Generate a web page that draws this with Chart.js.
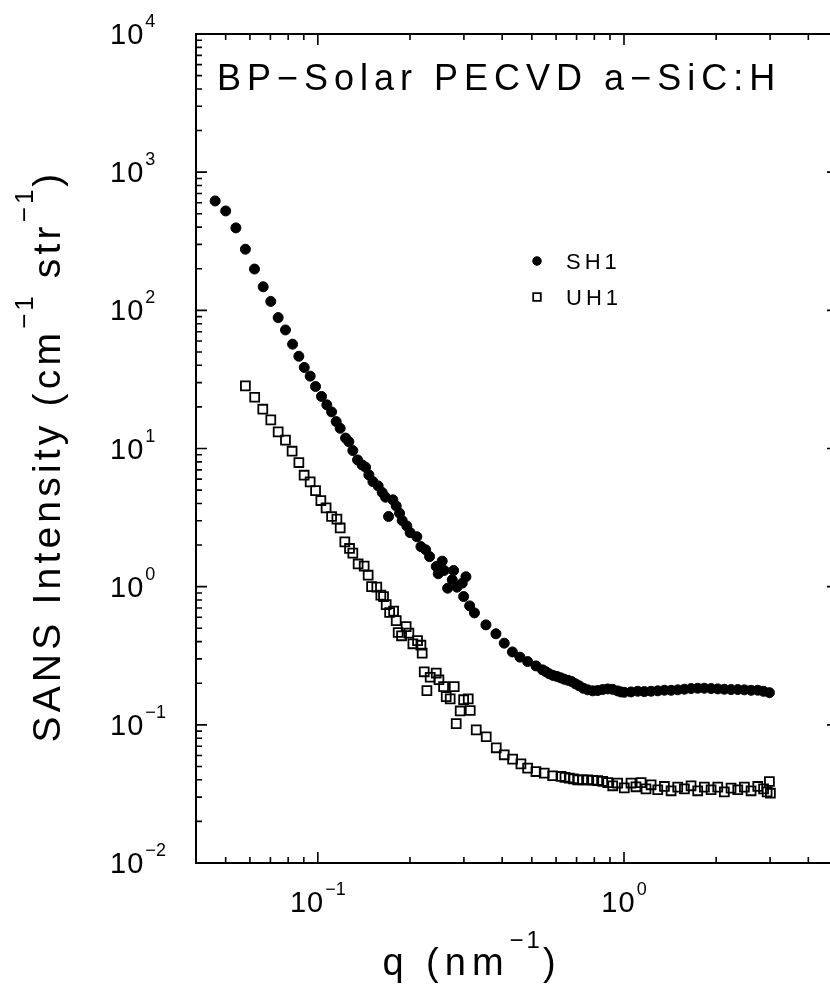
<!DOCTYPE html>
<html lang="es">
<head>
<meta charset="utf-8">
<title>SANS BP-Solar PECVD a-SiC:H</title>
<script src="https://cdn.jsdelivr.net/npm/chart.js@4.4.1/dist/chart.umd.min.js"></script>
<style>
    html, body { margin: 0; padding: 0; background: #fff; overflow: hidden; }
    #grafico { display: block; }
</style>
</head>
<body>
<canvas id="grafico" width="850" height="984"></canvas>
<script>
// Valores de q (nm^-1) e intensidad (cm^-1 str^-1) de la muestra SH1.
const qSH1 = [0.0462, 0.0500, 0.0540, 0.0580, 0.0621, 0.0663, 0.0702, 0.0742, 0.0784, 0.0827,
    0.0867, 0.0903, 0.0944, 0.0983, 0.1028, 0.1070, 0.1109, 0.1148, 0.1183, 0.1232,
    0.1263, 0.1301, 0.1348, 0.1395, 0.1432, 0.1468, 0.1513, 0.1574, 0.1623, 0.1664,
    0.1702, 0.1758, 0.1803, 0.1849, 0.1886, 0.1953, 0.2002, 0.2106, 0.2171, 0.2249,
    0.2317, 0.2436, 0.2473, 0.2548, 0.2587, 0.2654, 0.2748, 0.2777, 0.2847, 0.2963,
    0.2994, 0.3046, 0.3132, 0.3247, 0.3540, 0.3817, 0.4063, 0.4320, 0.4571, 0.4844,
    0.5157, 0.5416, 0.5560, 0.5700, 0.5861, 0.6039, 0.6206, 0.6380, 0.6561, 0.6745,
    0.6940, 0.7142, 0.7377, 0.7609, 0.7901, 0.8204, 0.8519, 0.8846, 0.9186, 0.9537,
    0.9777, 1.002, 1.054, 1.109, 1.165, 1.226, 1.289, 1.355, 1.425, 1.498,
    1.575, 1.656, 1.741, 1.830, 1.925, 2.024, 2.127, 2.237, 2.353, 2.473,
    2.600, 2.735, 2.857, 2.985];
const iSH1 = [619, 524, 395, 277, 199, 148, 116, 88.6, 72.1, 56.9,
    46.5, 38.6, 33.4, 28.1, 23.8, 20.7, 18.4, 15.65, 14.0, 11.9,
    11.2, 9.66, 8.27, 7.61, 7.32, 6.44, 5.76, 5.36, 4.80, 4.44,
    3.22, 4.25, 3.84, 3.40, 3.01, 2.75, 2.46, 2.30, 1.95, 1.85,
    1.65, 1.40, 1.24, 1.53, 1.31, 0.975, 1.12, 1.31, 0.992, 1.06,
    0.848, 1.18, 0.726, 0.646, 0.529, 0.456, 0.390, 0.337, 0.309, 0.287,
    0.267, 0.250, 0.242, 0.234, 0.228, 0.224, 0.219, 0.214, 0.210, 0.206,
    0.198, 0.1915, 0.1837, 0.1792, 0.1762, 0.1771, 0.1800, 0.1820, 0.1806, 0.1760,
    0.1730, 0.1720, 0.1730, 0.1750, 0.1740, 0.1750, 0.1762, 0.1780, 0.1777, 0.1792,
    0.1810, 0.1830, 0.1840, 0.1840, 0.1830, 0.1820, 0.1810, 0.1800, 0.1800, 0.1792,
    0.1777, 0.1780, 0.1747, 0.1710];

// Valores de q (nm^-1) e intensidad (cm^-1 str^-1) de la muestra UH1.
const qUH1 = [0.0580, 0.0622, 0.0661, 0.0702, 0.0742, 0.0784, 0.0824, 0.0867, 0.0902, 0.0944,
    0.0983, 0.1023, 0.1064, 0.1109, 0.1154, 0.1183, 0.1225, 0.1269, 0.1301, 0.1354,
    0.1417, 0.1460, 0.1498, 0.1558, 0.1606, 0.1639, 0.1672, 0.1716, 0.1768, 0.1803,
    0.1830, 0.1877, 0.1943, 0.1983, 0.2044, 0.2117, 0.2171, 0.2192, 0.2226, 0.2271,
    0.2328, 0.2436, 0.2486, 0.2575, 0.2626, 0.2706, 0.2789, 0.2831, 0.2917, 0.2994,
    0.3099, 0.3146, 0.3291, 0.3548, 0.3826, 0.4063, 0.4327, 0.4606, 0.4844, 0.5157,
    0.5489, 0.5848, 0.6225, 0.6416, 0.6626, 0.6839, 0.7058, 0.7328, 0.7609, 0.7901,
    0.8204, 0.8519, 0.8846, 0.9186, 0.9537, 1.002, 1.054, 1.094, 1.137, 1.180,
    1.226, 1.289, 1.355, 1.425, 1.498, 1.575, 1.656, 1.741, 1.830, 1.925,
    2.024, 2.127, 2.237, 2.353, 2.473, 2.600, 2.735, 2.857, 2.934, 2.985, 3.007];
const iUH1 = [28.4, 23.5, 19.25, 16.1, 13.2, 11.5, 9.56, 7.91, 6.41, 5.73,
    4.96, 4.20, 3.72, 3.22, 3.08, 2.66, 2.11, 1.89, 1.75, 1.46,
    1.41, 1.21, 1.00, 0.992, 0.868, 0.848, 0.742, 0.650, 0.665, 0.568,
    0.466, 0.441, 0.514, 0.461, 0.386, 0.407, 0.377, 0.330, 0.242, 0.177,
    0.221, 0.237, 0.212, 0.189, 0.160, 0.154, 0.189, 0.102, 0.126, 0.152,
    0.154, 0.127, 0.092, 0.082, 0.0682, 0.0607, 0.0565, 0.0522, 0.0486, 0.0459,
    0.0447, 0.0428, 0.0423, 0.0417, 0.0412, 0.0407, 0.0400, 0.0400, 0.0400, 0.0397,
    0.0395, 0.0390, 0.0382, 0.0362, 0.0379, 0.0350, 0.0379, 0.0356, 0.0382, 0.0344,
    0.0368, 0.0339, 0.0358, 0.0333, 0.0354, 0.0344, 0.0362, 0.0333, 0.0354, 0.0339,
    0.0354, 0.0327, 0.0348, 0.0339, 0.0354, 0.0333, 0.0358, 0.0344, 0.0327, 0.0389, 0.0320];

// Etiquetas de los ejes (potencias de diez) y límites.
const ticksX = [0.1, 1];
const ticksY = [0.01, 0.1, 1, 10, 100, 1000, 10000];
const rangoX = [0.04, 5];
const rangoY = [0.01, 10000];

const FUENTE = '"Liberation Sans", Arial, sans-serif';

// Dibuja varios trozos de texto seguidos (normal y superíndice).
const dibujarSegmentos = (ctx, segmentos, x, y, alinear) => {
    let total = 0;
    segmentos.forEach(s => {
        ctx.font = s.fuente;
        ctx.letterSpacing = s.espacio || '0px';
        s.ancho = ctx.measureText(s.texto).width;
        total += s.ancho;
    });
    let cursor = alinear === 'center' ? x - total / 2 : x;
    ctx.textAlign = 'left';
    ctx.textBaseline = 'alphabetic';
    segmentos.forEach(s => {
        ctx.font = s.fuente;
        ctx.letterSpacing = s.espacio || '0px';
        ctx.fillText(s.texto, cursor, y - (s.subir || 0));
        cursor += s.ancho;
    });
    ctx.letterSpacing = '0px';
};

// Texto "10" con su exponente.
const potenciaDiez = (valor) => {
    const exp = String(Math.round(Math.log10(valor))).replace('-', '\u2212');
    return [
        { texto: '10', fuente: `29px ${FUENTE}`, espacio: '1px' },
        { texto: ' ', fuente: `4px ${FUENTE}` },
        { texto: exp, fuente: `18px ${FUENTE}`, subir: 17 }
    ];
};

// Posiciones de marcas mayores y menores en escala logarítmica.
const valoresMarcas = (min, max) => {
    const marcas = [];
    for (let e = Math.floor(Math.log10(min)); e <= Math.ceil(Math.log10(max)); e++) {
        for (let k = 1; k <= 9; k++) {
            const v = Number((k * Math.pow(10, e)).toPrecision(6));
            if (v > min * 1.0001 && v < max * 0.9999) {
                marcas.push({ valor: v, mayor: k === 1 });
            }
        }
    }
    return marcas;
};

// Plugin para el marco, marcas hacia dentro, etiquetas, títulos y leyenda.
const marcoEjes = {
    id: 'marcoEjes',
    afterDraw(chart) {
        const { ctx, chartArea: area, scales } = chart;
        const ejeX = scales.x;
        const ejeY = scales.y;
        ctx.save();
        ctx.strokeStyle = '#000';
        ctx.fillStyle = '#000';

        // Marco
        ctx.lineWidth = 2;
        ctx.strokeRect(area.left, area.top, area.right - area.left, area.bottom - area.top);

        // Marcas
        ctx.lineWidth = 1.6;
        ctx.beginPath();
        valoresMarcas(ejeX.min, ejeX.max).forEach(m => {
            const px = ejeX.getPixelForValue(m.valor);
            const largo = m.mayor ? 11 : 6;
            ctx.moveTo(px, area.bottom); ctx.lineTo(px, area.bottom - largo);
            ctx.moveTo(px, area.top); ctx.lineTo(px, area.top + largo);
        });
        valoresMarcas(ejeY.min, ejeY.max).forEach(m => {
            const py = ejeY.getPixelForValue(m.valor);
            const largo = m.mayor ? 11 : 6;
            ctx.moveTo(area.left, py); ctx.lineTo(area.left + largo, py);
            ctx.moveTo(area.right, py); ctx.lineTo(area.right - largo, py);
        });
        ctx.stroke();

        // Etiquetas del eje Y
        ticksY.forEach(v => {
            const py = ejeY.getPixelForValue(v);
            dibujarSegmentos(ctx, potenciaDiez(v), 110, py + 10, 'left');
        });
        // Etiquetas del eje X
        ticksX.forEach(v => {
            const px = ejeX.getPixelForValue(v);
            dibujarSegmentos(ctx, potenciaDiez(v), px, 912, 'center');
        });

        // Título dentro del gráfico
        dibujarSegmentos(ctx, [
            { texto: 'BP\u2212Solar PECVD a\u2212SiC:H', fuente: `36px ${FUENTE}`, espacio: '6px' }
        ], 217, 90, 'left');

        // Título del eje X
        dibujarSegmentos(ctx, [
            { texto: 'q (nm', fuente: `38px ${FUENTE}`, espacio: '6px' },
            { texto: '\u22121', fuente: `24px ${FUENTE}`, espacio: '3px', subir: 27 },
            { texto: ')', fuente: `38px ${FUENTE}`, espacio: '6px' }
        ], 472, 975, 'center');

        // Título del eje Y (rotado)
        ctx.save();
        ctx.translate(60, 456);
        ctx.rotate(-Math.PI / 2);
        dibujarSegmentos(ctx, [
            { texto: 'SANS Intensity (cm', fuente: `39px ${FUENTE}`, espacio: '4.2px' },
            { texto: '\u22121', fuente: `26px ${FUENTE}`, espacio: '3px', subir: 27 },
            { texto: ' str', fuente: `39px ${FUENTE}`, espacio: '4.2px' },
            { texto: '\u22121', fuente: `26px ${FUENTE}`, espacio: '3px', subir: 27 },
            { texto: ')', fuente: `39px ${FUENTE}`, espacio: '4.2px' }
        ], 0, 0, 'center');
        ctx.restore();

        // Leyenda con el mismo estilo de punto de cada serie
        chart.data.datasets.forEach((ds, i) => {
            const yl = 261 + i * 36;
            ctx.fillStyle = ds.backgroundColor;
            ctx.strokeStyle = ds.borderColor;
            ctx.lineWidth = ds.borderWidth;
            Chart.helpers.drawPoint(ctx, {
                pointStyle: ds.pointStyle,
                radius: ds.pointRadius * 0.85,
                borderWidth: ds.borderWidth,
                rotation: 0
            }, 537, yl);
            ctx.fillStyle = '#000';
            dibujarSegmentos(ctx, [
                { texto: ds.label, fuente: `22px ${FUENTE}`, espacio: '4px' }
            ], 566, yl + 8, 'left');
        });

        ctx.restore();
    }
};

// Se arman los puntos a partir de los arreglos.
const puntos = (qs, is) => qs.map((q, i) => ({ x: q, y: is[i] }));

new Chart(document.getElementById('grafico').getContext('2d'), {
    type: 'scatter',
    data: {
        datasets: [{
            label: 'SH1',
            data: puntos(qSH1, iSH1),
            pointStyle: 'circle',
            pointRadius: 5,
            borderWidth: 1,
            backgroundColor: '#000',
            borderColor: '#000'
        }, {
            label: 'UH1',
            data: puntos(qUH1, iUH1),
            pointStyle: 'rect',
            pointRadius: 6.3,
            borderWidth: 1.8,
            backgroundColor: 'rgba(0,0,0,0)',
            borderColor: '#000'
        }]
    },
    options: {
        responsive: false,
        animation: false,
        layout: {
            padding: { left: 196, top: 34, right: 12, bottom: 121 }
        },
        plugins: {
            legend: { display: false },
            tooltip: { enabled: false }
        },
        scales: {
            x: {
                type: 'logarithmic',
                min: rangoX[0],
                max: rangoX[1],
                display: false
            },
            y: {
                type: 'logarithmic',
                min: rangoY[0],
                max: rangoY[1],
                display: false
            }
        }
    },
    plugins: [marcoEjes]
});
</script>
</body>
</html>
